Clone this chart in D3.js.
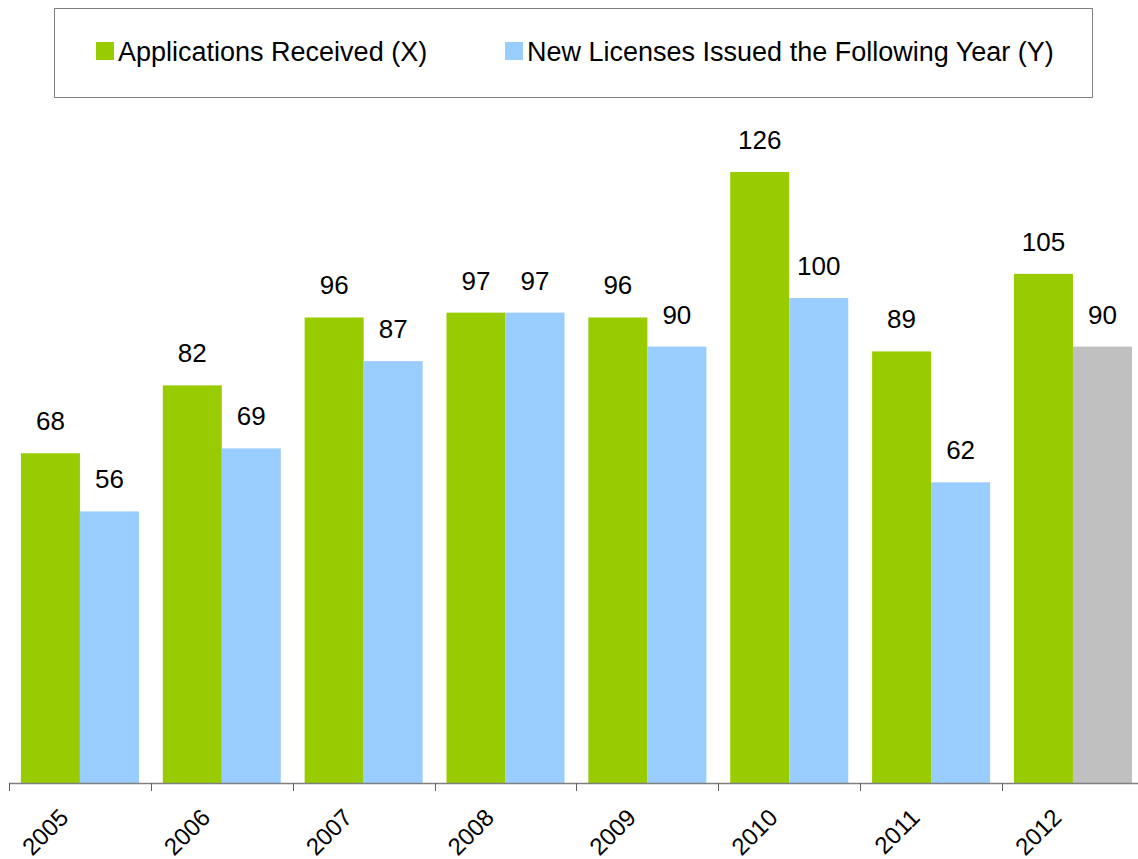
<!DOCTYPE html>
<html>
<head>
<meta charset="utf-8">
<script src="https://cdn.jsdelivr.net/npm/d3@7"></script>
<style>
  body { margin: 0; background: #fff; }
  svg { display: block; font-family: "Liberation Sans", Arial, sans-serif; }
</style>
</head>
<body>
<svg id="chart" width="1138" height="859"></svg>
<script>
var years = ['2005', '2006', '2007', '2008', '2009', '2010', '2011', '2012'];
var applications = [68, 82, 96, 97, 96, 126, 89, 105];
var licenses = [56, 69, 87, 97, 90, 100, 62, 90];
var seriesNames = ['Applications Received (X)', 'New Licenses Issued the Following Year (Y)'];
var colors = ['#99cc00', '#99ccff'];
var projectedColor = '#c0c0c0';   // 2012 licenses bar is grey

const svg = d3.select('#chart');

var baseline = 783;

var x0 = d3.scaleBand()
    .domain(years)
    .range([9, 9 + 8 * 141.86])
    .paddingInner(0)
    .paddingOuter(0);

var x1 = d3.scaleBand()
    .domain([0, 1])
    .range([0, x0.bandwidth()])
    .paddingInner(0)
    .paddingOuter(0.202);

var y = d3.scaleLinear()
    .domain([0, 126])
    .range([baseline, 172]);

var rows = years.map(function(yr, i) {
    return [
        {year: yr, s: 0, v: applications[i], color: colors[0]},
        {year: yr, s: 1, v: licenses[i], color: (yr === '2012') ? projectedColor : colors[1]}
    ];
});

var g = svg.selectAll('.group')
    .data(rows)
    .enter()
    .append('g')
    .attr('class', 'group')
    .attr('transform', function(d) { return 'translate(' + x0(d[0].year) + ',0)'; });

g.selectAll('rect')
    .data(function(d) { return d; })
    .enter()
    .append('rect')
    .attr('x', function(d) { return x1(d.s); })
    .attr('width', x1.bandwidth())
    .attr('y', function(d) { return y(d.v); })
    .attr('height', function(d) { return baseline - y(d.v); })
    .style('fill', function(d) { return d.color; });

g.selectAll('text')
    .data(function(d) { return d; })
    .enter()
    .append('text')
    .attr('x', function(d) { return x1(d.s) + x1.bandwidth() / 2; })
    .attr('y', function(d) { return y(d.v) - 23; })
    .attr('text-anchor', 'middle')
    .style('font-size', '26px')
    .style('fill', '#000')
    .text(function(d) { return d.v; });

// x axis: line with ticks at group boundaries
var axisG = svg.append('g');
axisG.append('line')
    .attr('x1', x0.range()[0]).attr('x2', x0.range()[1])
    .attr('y1', baseline + 0.5).attr('y2', baseline + 0.5)
    .style('stroke', '#808080').style('stroke-width', 1.5);

axisG.selectAll('.tick')
    .data(years)
    .enter()
    .append('line')
    .attr('x1', function(d) { return Math.round(x0(d)) + 0.5; })
    .attr('x2', function(d) { return Math.round(x0(d)) + 0.5; })
    .attr('y1', baseline).attr('y2', baseline + 8)
    .style('stroke', '#606060').style('stroke-width', 1);

axisG.selectAll('.yr')
    .data(years)
    .enter()
    .append('text')
    .attr('transform', function(d) {
        return 'translate(' + (x0(d) + x0.bandwidth() / 2 - 10) + ',' + (baseline + 36) + ') rotate(-45)';
    })
    .attr('text-anchor', 'end')
    .style('font-size', '24px')
    .text(function(d) { return d; });

// legend
var legend = svg.append('g');
legend.append('rect')
    .attr('x', 54.5).attr('y', 8.5)
    .attr('width', 1038).attr('height', 89)
    .style('fill', '#fff').style('stroke', '#808080').style('stroke-width', 1);

var legendX = [96, 505];
seriesNames.forEach(function(name, i) {
    legend.append('rect')
        .attr('x', legendX[i]).attr('y', 42)
        .attr('width', 18).attr('height', 18)
        .style('fill', colors[i]);
    legend.append('text')
        .attr('x', legendX[i] + 22).attr('y', 61)
        .style('font-size', '27px')
        .text(name);
});
</script>
</body>
</html>
